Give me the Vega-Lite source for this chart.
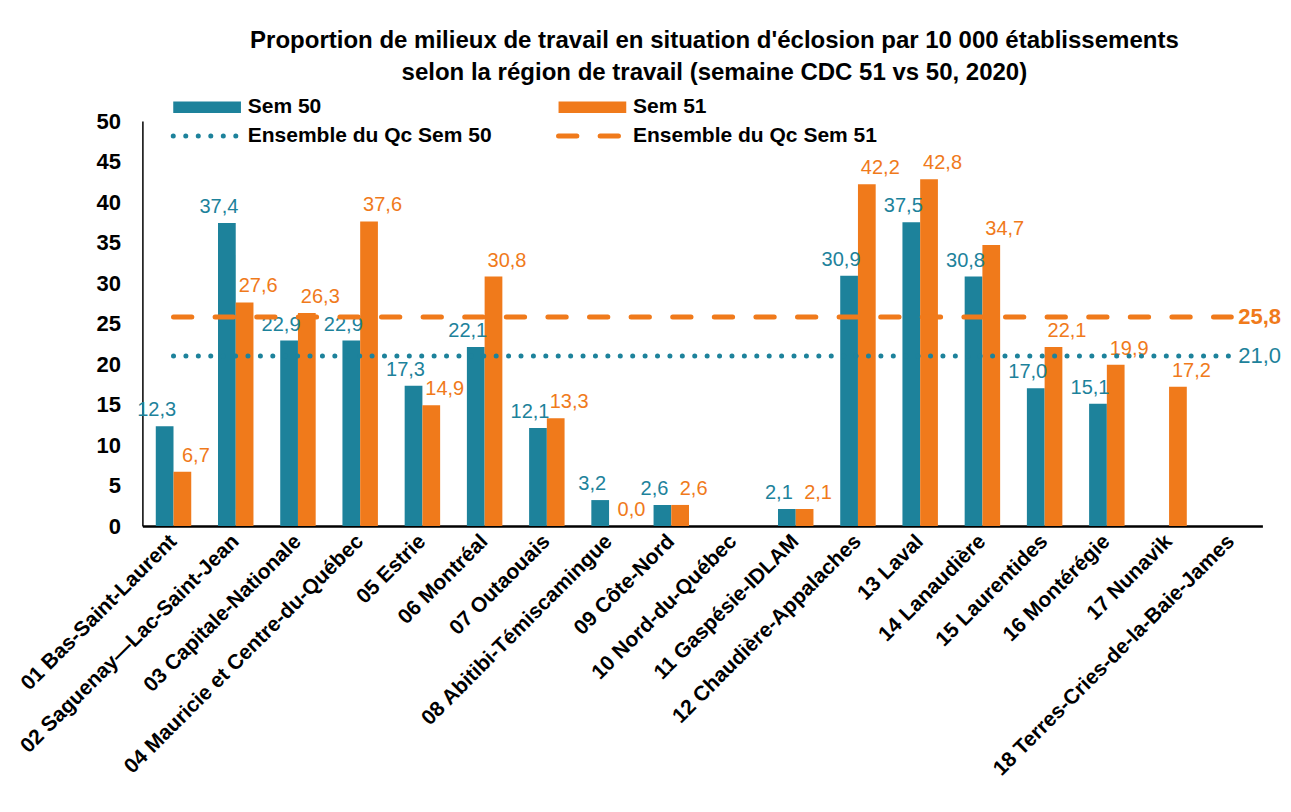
{
  "$schema": "https://vega.github.io/schema/vega-lite/v6.json",
  "autosize": "none",
  "width": 1120,
  "height": 405,
  "padding": {"left": 142.4, "top": 121, "right": 28.6, "bottom": 286},
  "background": "white",
  "config": {
    "font": "Liberation Sans",
    "locale": {"number": {"decimal": ",", "thousands": " ", "grouping": [3], "currency": ["", " $"]}},
    "view": {"stroke": null},
    "axis": {"grid": false, "ticks": false, "domainColor": "#000000", "labelColor": "#000000", "labelFont": "Liberation Sans", "labelFontWeight": "bold"}
  },
  "title": {
    "text": ["Proportion de milieux de travail en situation d'éclosion par 10 000 établissements", "selon la région de travail (semaine CDC 51 vs 50, 2020)"],
    "font": "Liberation Sans",
    "fontSize": 24,
    "fontWeight": "bold",
    "color": "#000000",
    "anchor": "middle",
    "frame": "group",
    "dx": 12,
    "lineHeight": 32,
    "offset": 12
  },
  "datasets": {
    "barres": [
      {"region": "01 Bas-Saint-Laurent", "serie": "Sem 50", "valeur": 12.3},
      {"region": "01 Bas-Saint-Laurent", "serie": "Sem 51", "valeur": 6.7},
      {"region": "02 Saguenay—Lac-Saint-Jean", "serie": "Sem 50", "valeur": 37.4},
      {"region": "02 Saguenay—Lac-Saint-Jean", "serie": "Sem 51", "valeur": 27.6},
      {"region": "03 Capitale-Nationale", "serie": "Sem 50", "valeur": 22.9},
      {"region": "03 Capitale-Nationale", "serie": "Sem 51", "valeur": 26.3},
      {"region": "04 Mauricie et Centre-du-Québec", "serie": "Sem 50", "valeur": 22.9},
      {"region": "04 Mauricie et Centre-du-Québec", "serie": "Sem 51", "valeur": 37.6},
      {"region": "05 Estrie", "serie": "Sem 50", "valeur": 17.3},
      {"region": "05 Estrie", "serie": "Sem 51", "valeur": 14.9},
      {"region": "06 Montréal", "serie": "Sem 50", "valeur": 22.1},
      {"region": "06 Montréal", "serie": "Sem 51", "valeur": 30.8},
      {"region": "07 Outaouais", "serie": "Sem 50", "valeur": 12.1},
      {"region": "07 Outaouais", "serie": "Sem 51", "valeur": 13.3},
      {"region": "08 Abitibi-Témiscamingue", "serie": "Sem 50", "valeur": 3.2},
      {"region": "08 Abitibi-Témiscamingue", "serie": "Sem 51", "valeur": 0.0},
      {"region": "09 Côte-Nord", "serie": "Sem 50", "valeur": 2.6},
      {"region": "09 Côte-Nord", "serie": "Sem 51", "valeur": 2.6},
      {"region": "11 Gaspésie-IDLAM", "serie": "Sem 50", "valeur": 2.1},
      {"region": "11 Gaspésie-IDLAM", "serie": "Sem 51", "valeur": 2.1},
      {"region": "12 Chaudière-Appalaches", "serie": "Sem 50", "valeur": 30.9},
      {"region": "12 Chaudière-Appalaches", "serie": "Sem 51", "valeur": 42.2},
      {"region": "13 Laval", "serie": "Sem 50", "valeur": 37.5},
      {"region": "13 Laval", "serie": "Sem 51", "valeur": 42.8},
      {"region": "14 Lanaudière", "serie": "Sem 50", "valeur": 30.8},
      {"region": "14 Lanaudière", "serie": "Sem 51", "valeur": 34.7},
      {"region": "15 Laurentides", "serie": "Sem 50", "valeur": 17.0},
      {"region": "15 Laurentides", "serie": "Sem 51", "valeur": 22.1},
      {"region": "16 Montérégie", "serie": "Sem 50", "valeur": 15.1},
      {"region": "16 Montérégie", "serie": "Sem 51", "valeur": 19.9},
      {"region": "17 Nunavik", "serie": "Sem 51", "valeur": 17.2}
    ],
    "lignes": [
      {"region": "01 Bas-Saint-Laurent", "serie": "Ensemble du Qc Sem 50", "valeur": 21.0},
      {"region": "18 Terres-Cries-de-la-Baie-James", "serie": "Ensemble du Qc Sem 50", "valeur": 21.0},
      {"region": "01 Bas-Saint-Laurent", "serie": "Ensemble du Qc Sem 51", "valeur": 25.8},
      {"region": "18 Terres-Cries-de-la-Baie-James", "serie": "Ensemble du Qc Sem 51", "valeur": 25.8}
    ]
  },
  "layer": [
    {
      "data": {"name": "barres"},
      "mark": {"type": "bar"},
      "encoding": {
        "x": {
          "field": "region", "type": "nominal", "sort": null, "title": null,
          "scale": {"domain": ["01 Bas-Saint-Laurent", "02 Saguenay—Lac-Saint-Jean", "03 Capitale-Nationale", "04 Mauricie et Centre-du-Québec", "05 Estrie", "06 Montréal", "07 Outaouais", "08 Abitibi-Témiscamingue", "09 Côte-Nord", "10 Nord-du-Québec", "11 Gaspésie-IDLAM", "12 Chaudière-Appalaches", "13 Laval", "14 Lanaudière", "15 Laurentides", "16 Montérégie", "17 Nunavik", "18 Terres-Cries-de-la-Baie-James"], "paddingInner": 0.43, "paddingOuter": 0.215},
          "axis": {"labelAngle": -45, "labelFontSize": 21, "labelPadding": 12, "labelAlign": "right", "labelBaseline": "middle", "labelLimit": 500, "domainWidth": 2.5}
        },
        "xOffset": {"field": "serie", "type": "nominal", "scale": {"domain": ["Sem 50", "Sem 51"], "paddingInner": 0, "paddingOuter": 0}},
        "y": {
          "field": "valeur", "type": "quantitative", "title": null,
          "scale": {"domain": [0, 50], "nice": false},
          "axis": {"values": [0, 5, 10, 15, 20, 25, 30, 35, 40, 45, 50], "labelFontSize": 22, "labelPadding": 22, "domainWidth": 1.5}
        },
        "color": {
          "field": "serie", "type": "nominal",
          "scale": {"domain": ["Sem 50", "Ensemble du Qc Sem 50", "Sem 51", "Ensemble du Qc Sem 51"], "range": ["#1d829b", "#1d829b", "#f07a1b", "#f07a1b"]},
          "legend": {
            "orient": "none", "legendX": 54.2, "legendY": -24.5, "columns": 2, "columnPadding": 55.3, "rowPadding": 7, "padding": 0,
            "title": null, "labelFont": "Liberation Sans", "labelFontSize": 21, "labelFontWeight": "bold", "labelColor": "#000000", "labelOffset": 30.1, "labelLimit": 500,
            "symbolSize": 509.3,
            "encode": {"symbols": {"update": {
              "shape": {"signal": "(datum.value == 'Sem 50' || datum.value == 'Sem 51') ? 'M-3,-0.52H3V0.52H-3Z' : 'M-3,0H3'"},
              "fill": {"signal": "datum.value == 'Sem 50' ? '#1d829b' : datum.value == 'Sem 51' ? '#f07a1b' : 'transparent'"},
              "stroke": {"signal": "datum.value == 'Ensemble du Qc Sem 50' ? '#1d829b' : datum.value == 'Ensemble du Qc Sem 51' ? '#f07a1b' : 'transparent'"},
              "strokeWidth": {"signal": "(datum.value == 'Sem 50' || datum.value == 'Sem 51') ? 0 : 5"},
              "strokeDash": {"signal": "datum.value == 'Ensemble du Qc Sem 50' ? [0.01, 12.5] : datum.value == 'Ensemble du Qc Sem 51' ? [18.3, 23.3] : [1, 0]"},
              "strokeCap": {"value": "round"},
              "opacity": {"value": 1}
            }}}
          }
        }
      }
    },
    {
      "data": {"name": "barres"},
      "transform": [{"filter": "datum.serie == 'Sem 50'"}],
      "mark": {"type": "text", "fontSize": 20, "baseline": "alphabetic", "dy": -10, "dx": -8, "font": "Liberation Sans"},
      "encoding": {
        "x": {"field": "region", "type": "nominal", "sort": null},
        "xOffset": {"field": "serie", "type": "nominal"},
        "y": {"field": "valeur", "type": "quantitative"},
        "text": {"field": "valeur", "type": "quantitative", "format": ".1f"},
        "color": {"field": "serie", "type": "nominal"}
      }
    },
    {
      "data": {"name": "barres"},
      "transform": [{"filter": "datum.serie == 'Sem 51'"}],
      "mark": {"type": "text", "fontSize": 20, "baseline": "alphabetic", "dy": -10, "dx": 13.5, "font": "Liberation Sans"},
      "encoding": {
        "x": {"field": "region", "type": "nominal", "sort": null},
        "xOffset": {"field": "serie", "type": "nominal"},
        "y": {"field": "valeur", "type": "quantitative"},
        "text": {"field": "valeur", "type": "quantitative", "format": ".1f"},
        "color": {"field": "serie", "type": "nominal"}
      }
    },
    {
      "data": {"name": "lignes"},
      "transform": [{"filter": "datum.serie == 'Ensemble du Qc Sem 50'"}],
      "mark": {"type": "line", "strokeWidth": 5, "strokeDash": [0.01, 12.4], "strokeCap": "round"},
      "encoding": {
        "x": {"field": "region", "type": "nominal", "sort": null},
        "y": {"field": "valeur", "type": "quantitative"},
        "color": {"field": "serie", "type": "nominal"}
      }
    },
    {
      "data": {"name": "lignes"},
      "transform": [{"filter": "datum.serie == 'Ensemble du Qc Sem 51'"}],
      "mark": {"type": "line", "strokeWidth": 5, "strokeDash": [18.3, 23.3], "strokeCap": "round"},
      "encoding": {
        "x": {"field": "region", "type": "nominal", "sort": null},
        "y": {"field": "valeur", "type": "quantitative"},
        "color": {"field": "serie", "type": "nominal"}
      }
    },
    {
      "data": {"name": "lignes"},
      "transform": [{"filter": "datum.serie == 'Ensemble du Qc Sem 50' && datum.region == '18 Terres-Cries-de-la-Baie-James'"}],
      "mark": {"type": "text", "fontSize": 22, "align": "left", "baseline": "middle", "dx": 7, "font": "Liberation Sans"},
      "encoding": {
        "x": {"field": "region", "type": "nominal", "sort": null},
        "y": {"field": "valeur", "type": "quantitative"},
        "text": {"field": "valeur", "type": "quantitative", "format": ".1f"},
        "color": {"field": "serie", "type": "nominal"}
      }
    },
    {
      "data": {"name": "lignes"},
      "transform": [{"filter": "datum.serie == 'Ensemble du Qc Sem 51' && datum.region == '18 Terres-Cries-de-la-Baie-James'"}],
      "mark": {"type": "text", "fontSize": 22, "fontWeight": "bold", "align": "left", "baseline": "middle", "dx": 7, "font": "Liberation Sans"},
      "encoding": {
        "x": {"field": "region", "type": "nominal", "sort": null},
        "y": {"field": "valeur", "type": "quantitative"},
        "text": {"field": "valeur", "type": "quantitative", "format": ".1f"},
        "color": {"field": "serie", "type": "nominal"}
      }
    }
  ]
}
